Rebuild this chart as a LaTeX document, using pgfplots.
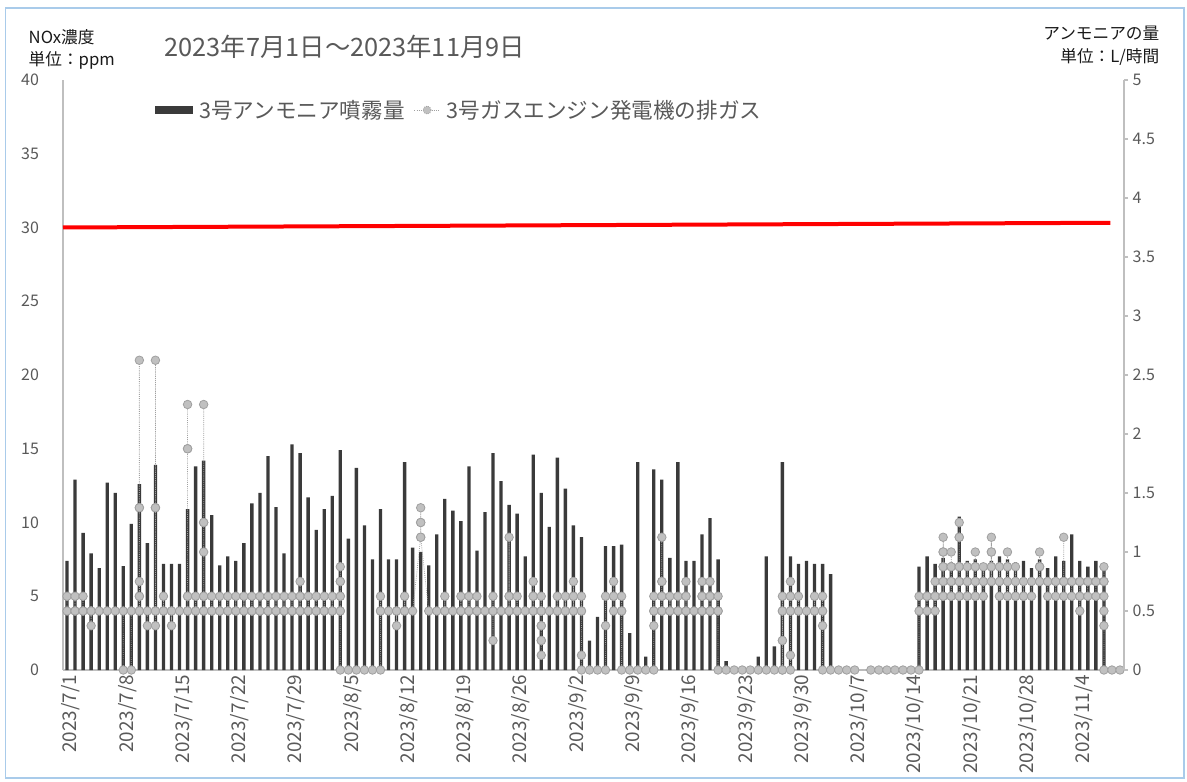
\documentclass[border=0pt]{standalone}
\usepackage{fontspec}
\setmainfont{Noto Sans CJK JP}
\usepackage{pgfplots}
\pgfplotsset{compat=1.18}
\usepackage{pgfplotstable}
\definecolor{bardark}{HTML}{3A3A3A}
\definecolor{ptfill}{HTML}{C0C0C0}
\definecolor{ptdraw}{HTML}{A0A0A0}
\definecolor{txtgray}{HTML}{595959}
\definecolor{axgray}{HTML}{BFBFBF}
\definecolor{frameblue}{HTML}{A9CBEA}

\pgfplotstableread{
x y
0 7.4
1 12.9
2 9.3
3 7.9
4 6.9
5 12.7
6 12.0
7 7.05
8 9.9
9 12.6
10 8.6
11 13.9
12 7.2
13 7.2
14 7.2
15 10.9
16 13.8
17 14.2
18 10.5
19 7.1
20 7.7
21 7.4
22 8.6
23 11.3
24 12.0
25 14.5
26 11.05
27 7.9
28 15.3
29 14.7
30 11.7
31 9.5
32 10.9
33 11.8
34 14.9
35 8.9
36 13.7
37 9.8
38 7.5
39 10.9
40 7.5
41 7.5
42 14.1
43 8.3
44 8.0
45 7.1
46 9.2
47 11.6
48 10.8
49 10.1
50 13.8
51 8.1
52 10.7
53 14.7
54 12.8
55 11.2
56 10.6
57 7.7
58 14.6
59 12.0
60 9.7
61 14.4
62 12.3
63 9.8
64 9.0
65 2.0
66 3.6
67 8.4
68 8.4
69 8.5
70 2.5
71 14.1
72 0.9
73 13.6
74 12.9
75 7.6
76 14.1
77 7.4
78 7.4
79 9.2
80 10.3
81 7.5
82 0.6
86 0.9
87 7.7
88 1.6
89 14.1
90 7.7
91 7.2
92 7.4
93 7.2
94 7.2
95 6.5
106 7.0
107 7.7
108 7.2
109 7.6
110 7.3
111 10.4
112 7.4
113 7.5
114 7.2
115 7.4
116 7.7
117 7.5
118 7.3
119 7.4
120 6.9
121 7.5
122 6.9
123 7.7
124 7.4
125 9.2
126 7.4
127 7.0
128 7.4
129 7.0
}\bardata

\pgfplotstableread{
x y
0 5
0 4
1 4
1 5
1 4
2 4
2 5
2 4
3 4
3 3
3 4
4 4
5 4
6 4
7 4
7 0
8 0
8 4
9 4
9 5
9 6
9 11
9 21
9 11
9 5
9 4
10 4
10 3
11 3
11 4
11 11
11 21
11 11
11 4
12 4
12 5
12 4
13 4
13 3
13 4
14 4
15 4
15 5
15 15
15 18
15 15
15 5
15 4
16 4
16 5
16 4
17 4
17 5
17 8
17 10
17 18
17 10
17 5
17 4
18 4
18 5
18 4
19 4
19 5
19 4
20 4
20 5
20 4
21 4
21 5
21 4
22 4
22 5
22 4
23 4
23 5
23 4
24 4
24 5
24 4
25 4
25 5
25 4
26 4
26 5
26 4
27 4
27 5
27 4
28 4
28 5
28 4
29 4
29 5
29 6
29 5
29 4
30 4
30 5
30 4
31 4
31 5
31 4
32 4
32 5
32 4
33 4
33 5
33 4
34 4
34 5
34 6
34 7
34 6
34 5
34 4
34 0
35 0
36 0
37 0
38 0
39 0
39 4
39 5
39 4
40 4
41 4
41 3
41 4
42 4
42 5
42 4
43 4
44 9
44 10
44 11
44 10
44 9
45 4
46 4
47 4
47 5
47 4
48 4
49 4
49 5
49 4
50 4
50 5
50 4
51 4
51 5
51 4
52 4
53 4
53 5
53 4
53 2
53 4
54 4
55 4
55 5
55 9
55 5
55 4
56 4
56 5
56 4
57 4
58 4
58 5
58 6
58 5
58 4
59 4
59 5
59 4
59 3
59 2
59 1
59 2
59 3
59 4
60 4
61 4
61 5
61 4
62 4
62 5
62 4
63 4
63 5
63 6
63 5
63 4
64 4
64 5
64 4
64 1
64 0
65 0
66 0
67 0
67 3
67 5
68 5
68 6
68 5
68 4
69 4
69 5
69 4
69 0
70 0
71 0
72 0
73 0
73 3
73 4
73 5
73 4
74 4
74 5
74 6
74 9
74 6
74 5
74 4
75 4
75 5
75 4
76 4
76 5
76 4
77 4
77 5
77 6
77 5
77 4
78 4
79 4
79 5
79 6
79 5
79 4
80 4
80 5
80 6
80 5
80 4
81 4
81 5
81 4
81 0
82 0
83 0
84 0
85 0
86 0
87 0
88 0
89 0
89 2
89 4
89 5
89 4
89 2
89 0
90 0
90 1
90 4
90 5
90 6
90 5
90 4
91 4
91 5
91 4
92 4
93 4
93 5
93 4
94 4
94 5
94 4
94 3
94 0
95 0
96 0
97 0
98 0
100 0
101 0
102 0
103 0
104 0
105 0
106 0
106 4
106 5
107 5
107 4
107 5
108 5
108 4
108 5
108 6
108 5
109 5
109 6
109 7
109 8
109 9
109 8
109 7
109 6
109 5
110 5
110 6
110 7
110 8
110 7
110 6
110 5
111 5
111 6
111 7
111 9
111 10
111 9
111 7
111 6
111 5
112 5
112 6
112 7
112 6
112 5
113 5
113 6
113 7
113 8
113 7
113 6
113 5
114 5
114 6
114 7
114 6
115 6
115 7
115 8
115 9
115 8
115 7
115 6
116 6
116 7
116 6
116 5
117 5
117 6
117 7
117 8
117 7
117 6
117 5
118 5
118 6
118 7
118 6
118 5
119 5
119 6
119 5
120 5
120 6
121 6
121 7
121 8
121 7
121 6
122 6
122 5
122 6
123 6
123 5
123 6
124 6
124 5
124 6
124 9
124 6
125 6
125 5
125 6
126 6
126 5
126 4
126 5
126 6
127 6
127 5
127 6
128 6
128 5
128 6
129 6
129 7
129 6
129 5
129 4
129 3
129 0
130 0
131 0
}\noxdata

\begin{document}
\begin{tikzpicture}[x=0.75pt,y=0.75pt]
\useasboundingbox (0,0) rectangle (1187,781);
\draw[frameblue, line width=0.9pt] (5.5,3) rectangle (1184,773);

\begin{axis}[
  at={(47.25pt,83.25pt)}, anchor=south west,
  width=795.75pt, height=442.5pt, scale only axis,
  xmin=-0.5, xmax=131.5, ymin=0, ymax=40,
  clip=false,
  axis x line*=bottom, axis y line*=left,
  axis line style={-, axgray, line width=0.9pt},
  major tick length=0pt,
  xtick={0,7,...,126},
  xticklabels={2023/7/1,2023/7/8,2023/7/15,2023/7/22,2023/7/29,2023/8/5,2023/8/12,2023/8/19,2023/8/26,2023/9/2,2023/9/9,2023/9/16,2023/9/23,2023/9/30,2023/10/7,2023/10/14,2023/10/21,2023/10/28,2023/11/4},
  x tick label style={rotate=90, anchor=east, font=\fontsize{14.2}{16}\selectfont, text=txtgray, yshift=-3pt},
  ytick={0,5,...,40},
  y tick label style={font=\fontsize{12}{14}\selectfont, text=txtgray, xshift=-14.5pt},
  /pgf/number format/assume math mode=true,
  legend style={at={(0.086,0.949)}, anchor=west, draw=none, fill=none,
    font=\fontsize{16.2}{18}\selectfont, text=txtgray, legend columns=2,
    inner sep=0pt,
    /tikz/every odd column/.append style={column sep=3pt},
    /tikz/every even column/.append style={column sep=5pt}},
]
\addplot[ybar, bar width=2.5pt, bar shift=0pt, fill=bardark, draw=none,
  legend image code/.code={\fill[bardark] (0pt,-2.7pt) rectangle (28.5pt,2.7pt);}]
  table[x=x,y=y] {\bardata};
\addlegendentry{3号アンモニア噴霧量}
\addplot[color=ptdraw, densely dotted, line width=0.6pt, mark=*, mark size=3.2pt,
  mark options={solid, fill=ptfill, draw=ptdraw, line width=0.6pt},
  legend image code/.code={\draw[ptdraw, densely dotted, line width=0.6pt] (0pt,0pt) -- (19pt,0pt);
    \draw[ptdraw, fill=ptfill, line width=0.6pt] (9.5pt,0pt) circle (3pt);}]
  table[x=x,y=y] {\noxdata};
\addlegendentry{3号ガスエンジン発電機の排ガス}
\addplot[red, line width=3pt, forget plot] coordinates {(-0.5,30.0) (129.8,30.32)};
\end{axis}

\begin{axis}[
  at={(47.25pt,83.25pt)}, anchor=south west,
  width=795.75pt, height=442.5pt, scale only axis,
  xmin=-0.5, xmax=131.5, ymin=0, ymax=5,
  axis x line=none, axis y line*=right,
  axis line style={-, axgray, line width=0.9pt},
  ytick={0,0.5,1,1.5,2,2.5,3,3.5,4,4.5,5},
  tick align=outside, major tick length=3pt,
  y tick style={axgray, line width=0.9pt},
  y tick label style={font=\fontsize{12}{14}\selectfont, text=txtgray},
  /pgf/number format/assume math mode=true,
]
\addplot[draw=none, forget plot] coordinates {(0,0)};
\end{axis}

\node[anchor=west, font=\fontsize{12.5}{14}\selectfont, text=black!90] at (24,744) {NOx濃度};
\node[anchor=west, font=\fontsize{12.5}{14}\selectfont, text=black!90] at (24,721) {単位：ppm};
\node[anchor=west, font=\fontsize{19}{21}\selectfont, text=txtgray] at (160,734) {2023年7月1日～2023年11月9日};
\node[anchor=east, font=\fontsize{12.5}{14}\selectfont, text=black!90] at (1164,748) {アンモニアの量};
\node[anchor=east, font=\fontsize{12.5}{14}\selectfont, text=black!90] at (1164,724) {単位：L/時間};
\end{tikzpicture}
\end{document}
